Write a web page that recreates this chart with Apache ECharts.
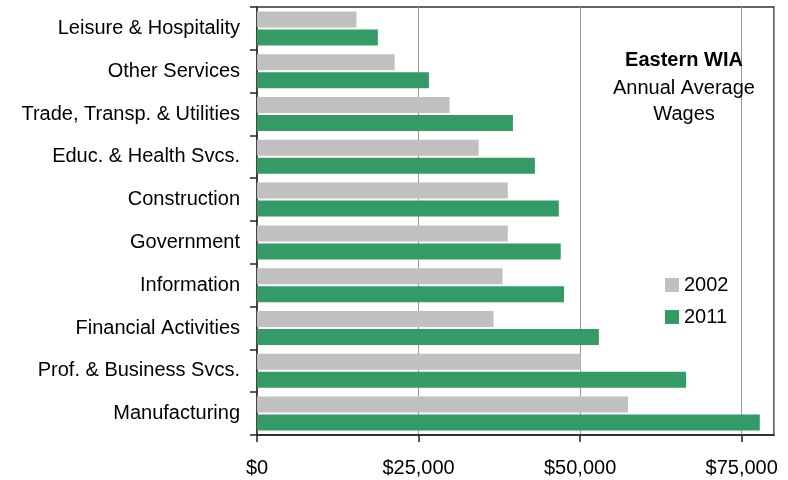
<!doctype html>
<html lang="en">
<head>
<meta charset="UTF-8">
<title>Eastern WIA Annual Average Wages</title>
<style>
  html, body { margin: 0; padding: 0; background: #fff; }
  #main { width: 788px; height: 480px; }
</style>
</head>
<body>
<div id="main"></div>
<script src="https://cdn.jsdelivr.net/npm/echarts@6/dist/echarts.min.js"></script>
<script type="text/javascript">
// categories listed top to bottom
var industries = ['Leisure & Hospitality', 'Other Services', 'Trade, Transp. & Utilities',
    'Educ. & Health Svcs.', 'Construction', 'Government', 'Information',
    'Financial Activities', 'Prof. & Business Svcs.', 'Manufacturing'];
var wages2002 = [15400, 21300, 29800, 34300, 38800, 38800, 38000, 36600, 50100, 57400];
var wages2011 = [18700, 26600, 39600, 43000, 46700, 47000, 47500, 52900, 66400, 77800];
var xTicks = [0, 25000, 50000, 75000];

var font = "'Liberation Sans', Arial, Helvetica, sans-serif";
var myChart = echarts.init(document.getElementById('main'));

var option = {
    backgroundColor: '#fff',
    animation: false,
    textStyle: { fontFamily: font, color: '#000' },
    title: {
        text: 'Eastern WIA',
        subtext: 'Annual Average\nWages',
        left: 684,
        top: 50,
        textAlign: 'center',
        padding: 0,
        itemGap: 5,
        textStyle: { fontFamily: font, fontSize: 20, fontWeight: 'bold', color: '#000' },
        subtextStyle: { fontFamily: font, fontSize: 20, color: '#000', lineHeight: 26, align: 'center' }
    },
    legend: {
        orient: 'vertical',
        left: 665,
        top: 275,
        padding: 0,
        itemWidth: 14,
        itemHeight: 14,
        itemGap: 12,
        icon: 'rect',
        data: ['2002', '2011'],
        textStyle: { fontFamily: font, fontSize: 20, color: '#000', padding: [0, 0, 0, 0] }
    },
    grid: {
        left: 257,
        right: 14,
        top: 7,
        bottom: 45,
        show: true,
        borderColor: '#333',
        borderWidth: 1.5
    },
    xAxis: {
        type: 'value',
        min: 0,
        max: 80000,
        interval: 25000,
        axisLine: { show: true, lineStyle: { color: '#222', width: 1.5 } },
        axisTick: { show: true, length: 7, lineStyle: { color: '#222', width: 1.5 } },
        axisLabel: {
            fontFamily: font, fontSize: 20, color: '#000', margin: 23, showMaxLabel: false,
            formatter: function (v) {
                return xTicks.indexOf(v) >= 0 ? '$' + v.toLocaleString('en-US') : '';
            }
        },
        splitLine: { show: true, lineStyle: { color: '#999', width: 1 } }
    },
    yAxis: {
        type: 'category',
        inverse: true,
        data: industries,
        axisLine: { show: true, lineStyle: { color: '#444', width: 2 } },
        axisTick: { show: true, length: 7, lineStyle: { color: '#222', width: 1.5 } },
        axisLabel: { fontFamily: font, fontSize: 20, color: '#000', margin: 17 },
        splitLine: { show: false }
    },
    series: [
        {
            name: '2002',
            type: 'bar',
            data: wages2002,
            barWidth: 16,
            barGap: '12.5%',
            itemStyle: { color: '#c0c0c0' }
        },
        {
            name: '2011',
            type: 'bar',
            data: wages2011,
            barWidth: 16,
            barGap: '12.5%',
            itemStyle: { color: '#349a66' }
        }
    ]
};

myChart.setOption(option);
</script>
</body>
</html>
